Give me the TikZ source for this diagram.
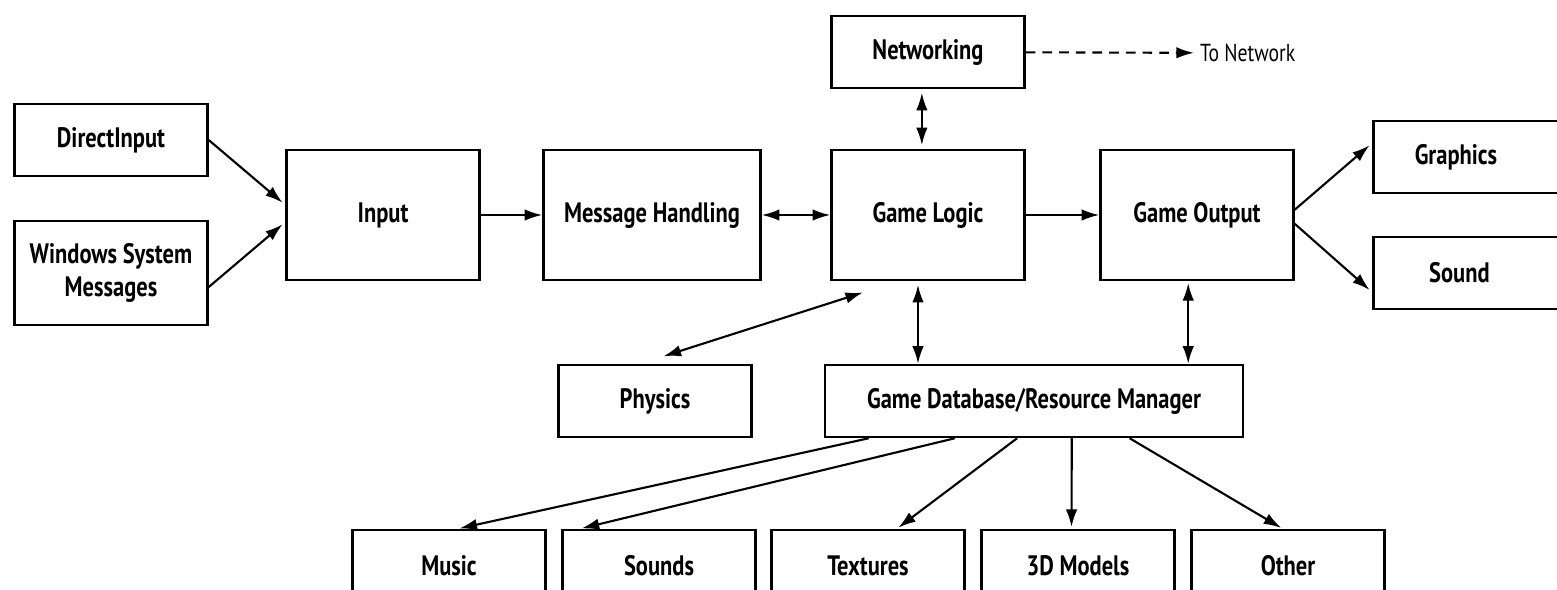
\documentclass[tikz,border=0pt]{standalone}
\usepackage{fontspec}
\setmainfont[FakeStretch=0.8]{PT Sans}
\usetikzlibrary{arrows.meta,positioning}

\tikzset{
  block/.style={draw, line width=1.4pt, minimum width=3.86cm, minimum height=1.44cm,
    inner sep=2pt, align=center, font=\fontsize{16}{19}\selectfont\bfseries},
  bigblock/.style={block, minimum height=2.6cm},
  link/.style={line width=1.2pt, -{Latex[length=10pt,width=6.5pt]}},
  duplex/.style={line width=1.2pt, {Latex[length=10pt,width=6.5pt]}-{Latex[length=10pt,width=6.5pt]}},
}

\begin{document}
\begin{tikzpicture}[x=0.02cm,y=-0.02cm]
\useasboundingbox (0,0) rectangle (1557,589);
\clip (0,0) rectangle (1557,589);
% the input side
\node[block] (dinput) at (111,140) {DirectInput};
\node[block, minimum height=2.08cm] (winmsg) at (111,273) {Windows System\\Messages};
% the main row
\node[bigblock] (input) at (383,215) {Input};
\node[bigblock, minimum width=4.34cm] (msg) at (652,215) {Message Handling};
\node[bigblock] (logic) at (928,215) {Game Logic};
\node[bigblock] (output) at (1197,215) {Game Output};
% networking on top
\node[block] (net) at (928,52) {Networking};
\node[anchor=west, font=\fontsize{14}{16}\selectfont] (tonet) at (1194,53) {To Network};
% the output side
\node[block] (gfx) at (1470,157) {\hspace*{-16pt}Graphics};
\node[block] (snd) at (1470,273) {\hspace*{-12pt}Sound};
% the middle row
\node[block] (phys) at (655,401) {Physics};
\node[block, minimum width=8.36cm] (gdb) at (1034,401) {Game Database/Resource Manager};
% the resources
\foreach \name/\x/\txt in {music/449/Music, sounds/659/Sounds, tex/868/Textures, models/1078/3D Models, other/1288/Other}
  \node[block] (\name) at (\x,566) {\txt};

% the connectors
\draw[link, shorten >=2pt] (dinput.east) -- ([yshift=5.7pt]input.west);
\draw[link, shorten >=2pt] ([yshift=-8pt]winmsg.east) -- ([yshift=-4pt]input.west);
\draw[link] (input) -- (msg);
\draw[duplex] (msg) -- (logic);
\draw[link] (logic) -- (output);
\draw[link, shorten >=2pt] ([yshift=3pt]output.east) -- ([yshift=8pt]gfx.west);
\draw[link, shorten >=2pt] ([yshift=-5pt]output.east) -- ([yshift=-11pt]snd.west);
\draw[duplex, shorten <=2pt, shorten >=2pt] ([xshift=-3.5pt]net.south) -- ([xshift=-3.5pt]logic.north);
\draw[link, dash pattern=on 5.5pt off 4pt] (net) -- (tonet);
\draw[duplex, shorten <=14pt, shorten >=21pt] ([xshift=-8.5pt]phys.north) -- ([xshift=-17pt]logic.south);
\coordinate (lgc) at ([xshift=-5.7pt]logic.south);
\draw[duplex, shorten <=2pt] (lgc) -- (lgc |- gdb.north);
\coordinate (outc) at ([xshift=-5pt]output.south);
\draw[duplex, shorten <=1pt] (outc) -- (outc |- gdb.north);
\foreach \name/\a/\b in {music/-94/5, sounds/-45/-45, tex/-9.6/16.4, models/21.5/-3.7, other/54.4/-3}
  \draw[link, shorten >=1pt] ([xshift=\a pt]gdb.south) -- ([xshift=\b pt]\name.north);
\end{tikzpicture}
\end{document}
